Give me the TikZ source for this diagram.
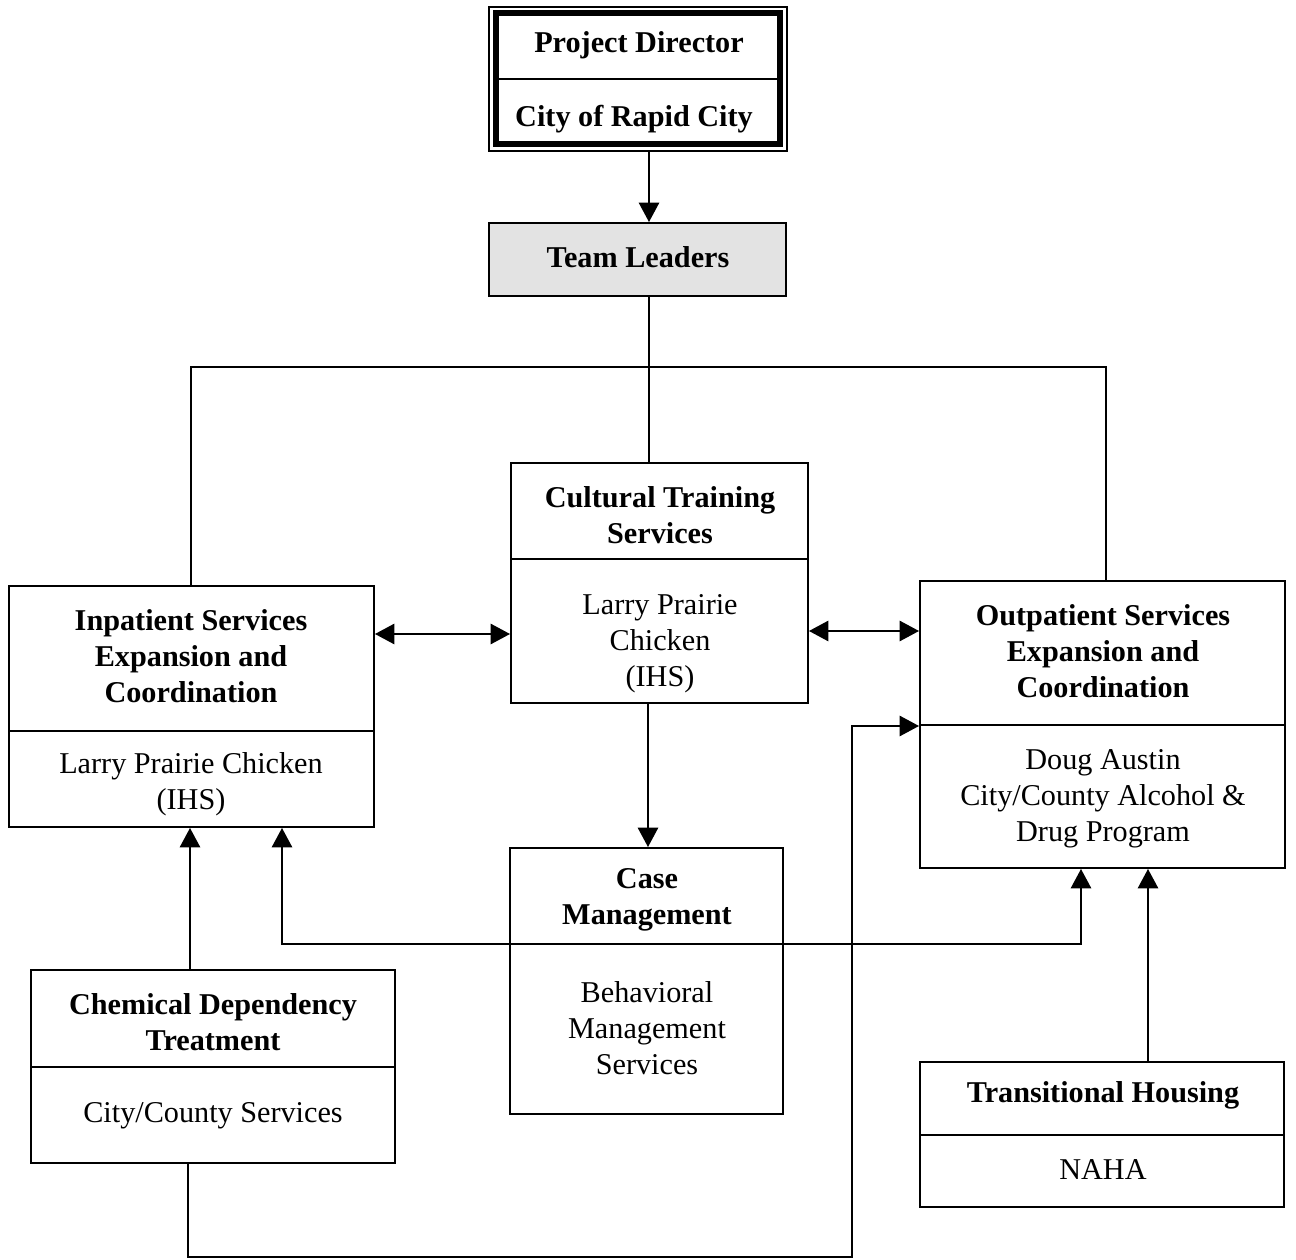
\documentclass[tikz,border=0pt]{standalone}
\usepackage{fontspec}
\setmainfont{Liberation Serif}
\usetikzlibrary{arrows.meta,fit}
\begin{document}
\begin{tikzpicture}[x=0.02cm,y=-0.02cm,
  boxst/.style={draw,line width=1.1pt,inner sep=0pt,fill=white},
  ttl/.style={font=\fontsize{17.2}{20.6}\selectfont\bfseries,align=center,inner sep=0pt,yshift=-1.4pt},
  body/.style={font=\fontsize{17.2}{20.6}\selectfont,align=center,inner sep=0pt,yshift=-1.4pt},
  conn/.style={line width=1.1pt},
  arr/.style={conn,-{Triangle[length=11pt,width=11.5pt]}},
  darr/.style={conn,{Triangle[length=11pt,width=11.5pt]}-{Triangle[length=11pt,width=11.5pt]}}]
\useasboundingbox (0,0) rectangle (1296,1260);
\fill[white] (0,0) rectangle (1296,1260);

% Project Director (double border)
\node[draw,line width=0.6pt,inner sep=0pt,fit={(489,7)(787,151)}] (pd) {};
\node[draw,line width=2.9pt,inner sep=0pt,fit={(496,13)(780,144)}] (pdin) {};
\draw[line width=1pt] (pdin.west |- 0,79) -- (pdin.east |- 0,79);
\node[ttl] (pdT) at (639,43) {Project Director};
\node[ttl] (pdB) at (634,117) {City of Rapid City};

% Team Leaders
\node[boxst,fill=gray!22,fit={(489,223)(786,296)}] (tl) {};
\node[ttl] (tlT) at (638,255) {Team Leaders};

% Cultural Training Services
\node[boxst,fit={(511,463)(808,703)}] (cult) {};
\draw[line width=1.1pt] (cult.west |- 0,559) -- (cult.east |- 0,559);
\node[ttl] (cultT) at (660,513) {Cultural Training\\Services};
\node[body] (cultB) at (660,641) {Larry Prairie\\Chicken\\(IHS)};

% Inpatient
\node[boxst,fit={(9,586)(374,827)}] (inp) {};
\draw[line width=1.1pt] (inp.west |- 0,731) -- (inp.east |- 0,731);
\node[ttl] (inpT) at (191,654) {Inpatient Services\\Expansion and\\Coordination};
\node[body] (inpB) at (191,782) {Larry Prairie Chicken\\(IHS)};

% Outpatient
\node[boxst,fit={(920,581)(1285,868)}] (outp) {};
\draw[line width=1.1pt] (outp.west |- 0,725) -- (outp.east |- 0,725);
\node[ttl] (outpT) at (1103,649) {Outpatient Services\\Expansion and\\Coordination};
\node[body] (outpB) at (1103,796) {Doug Austin\\City/County Alcohol \&\\Drug Program};

% Case Management
\node[boxst,fit={(510,848)(783,1114)}] (case) {};
\draw[line width=1.1pt] (case.west |- 0,944) -- (case.east |- 0,944);
\node[ttl] (caseT) at (647,897) {Case\\Management};
\node[body] (caseB) at (647,1026) {Behavioral\\Management\\Services};

% Chemical Dependency
\node[boxst,fit={(31,970)(395,1163)}] (chem) {};
\draw[line width=1.1pt] (chem.west |- 0,1067) -- (chem.east |- 0,1067);
\node[ttl] (chemT) at (213,1020) {Chemical Dependency\\Treatment};
\node[body] (chemB) at (213,1113) {City/County Services};

% Transitional Housing
\node[boxst,fit={(920,1062)(1284,1207)}] (trans) {};
\draw[line width=1.1pt] (trans.west |- 0,1135) -- (trans.east |- 0,1135);
\node[ttl] (transT) at (1103,1093) {Transitional Housing};
\node[body] (transB) at (1103,1167) {NAHA};

% Connectors
\draw[arr] (pd.south -| 649,0) -- (tl.north -| 649,0);
\draw[conn] (tl.south -| 649,0) -- (cult.north -| 649,0);
\draw[conn] (inp.north -| 191,0) -- (191,367) -- (1106,367) -- (outp.north -| 1106,0);
\draw[darr] (inp.east |- 0,634) -- (cult.west |- 0,634);
\draw[darr] (cult.east |- 0,631) -- (outp.west |- 0,631);
\draw[arr] (cult.south -| 648,0) -- (case.north -| 648,0);
\draw[arr] (chem.north -| 190,0) -- (inp.south -| 190,0);
\draw[arr] (trans.north -| 1148,0) -- (outp.south -| 1148,0);
\draw[darr] (inp.south -| 282,0) -- (282,944) -- (1081,944) -- (outp.south -| 1081,0);
\draw[arr] (chem.south -| 188,0) -- (188,1257) -- (852,1257) -- (852,726) -- (outp.west |- 0,726);
\end{tikzpicture}
\end{document}
